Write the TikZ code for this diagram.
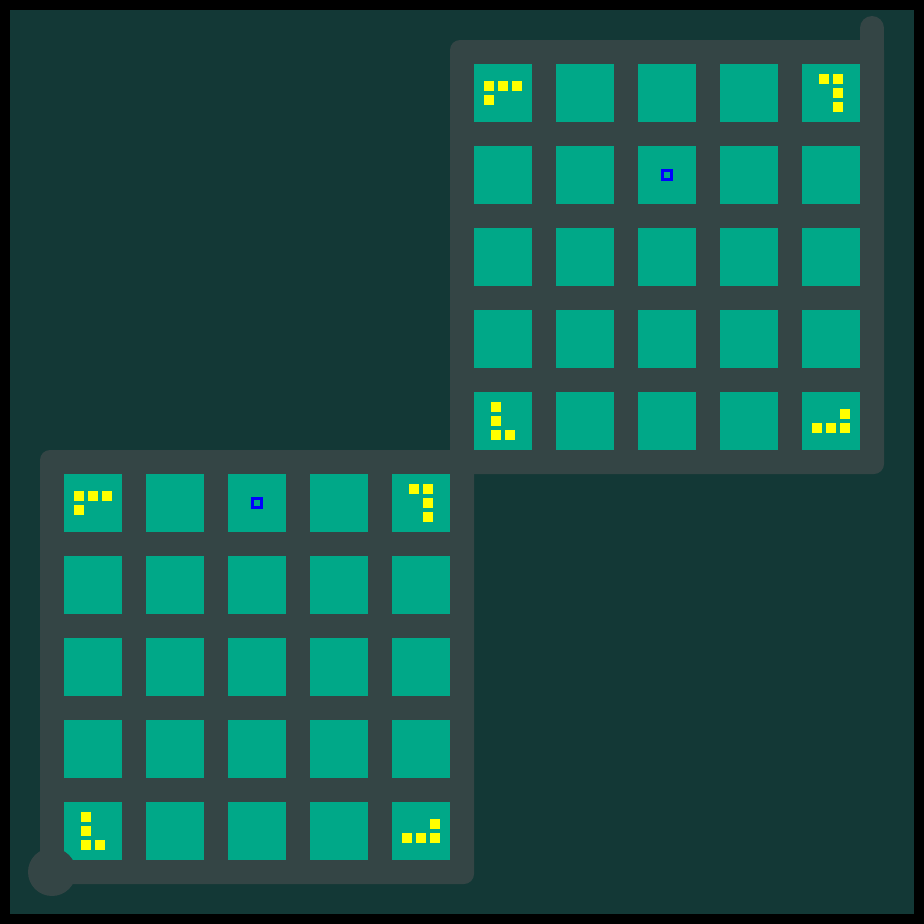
\documentclass[tikz,border=0pt]{standalone}
\usetikzlibrary{positioning, calc}

\definecolor{boardBg}{RGB}{19,56,54}
\definecolor{frameGray}{RGB}{52,69,69}
\definecolor{cellTeal}{RGB}{0,168,136}
\definecolor{pipYellow}{RGB}{255,255,0}
\definecolor{targetBlue}{RGB}{0,0,255}

\begin{document}
\begin{tikzpicture}[
    x=0.03cm, y=-0.03cm,
    % Board Styles
    board/.style={fill=frameGray, rounded corners=0.3cm},
    cell/.style={rectangle, fill=cellTeal, inner sep=0pt, minimum size=1.74cm, anchor=north west},
    % Marker Styles
    pip/.style={rectangle, fill=pipYellow, inner sep=0pt, minimum size=0.3cm, anchor=north west},
    target/.style={rectangle, draw=targetBlue, line width=0.09cm, inner sep=0pt, minimum size=0.27cm}
]
\useasboundingbox (0,0) rectangle (924,924);

% =========================================================
% BACKGROUND
% =========================================================
\fill[black] (0,0) rectangle (924,924);
\fill[boardBg] (10,10) rectangle (914,914);

% =========================================================
% FRAMES
% =========================================================
\fill[board] (450,40) rectangle (884,474);
\fill[board] (40,450) rectangle (474,884);

% tail at the top right
\coordinate (tailTop) at (872,28);
\coordinate (tailFoot) at (872,52);
\draw[frameGray, line width=0.72cm, line cap=round] (tailTop) -- (tailFoot);

% =========================================================
% CELLS: upper grid (u) and lower grid (l)
% =========================================================
\foreach \i in {0,...,4} {
    \foreach \j in {0,...,4} {
        \node[cell] (u-\i-\j) at ({474+82*\i},{64+82*\j}) {};
        \node[cell] (l-\i-\j) at ({64+82*\i},{474+82*\j}) {};
    }
}

% start knob sits over the lower grid corner
\fill[frameGray] (52,872) circle (0.72cm);

% =========================================================
% CORNER PIPS
% =========================================================
\foreach \g in {u,l} {
    \foreach \dx/\dy [count=\k] in {10/17, 24/17, 38/17, 10/31}
        \node[pip] (\g-nw-\k) at ($(\g-0-0.north west)+(\dx,\dy)$) {};
    \foreach \dx/\dy [count=\k] in {17/10, 31/10, 31/24, 31/38}
        \node[pip] (\g-ne-\k) at ($(\g-4-0.north west)+(\dx,\dy)$) {};
    \foreach \dx/\dy [count=\k] in {17/10, 17/24, 17/38, 31/38}
        \node[pip] (\g-sw-\k) at ($(\g-0-4.north west)+(\dx,\dy)$) {};
    \foreach \dx/\dy [count=\k] in {10/31, 24/31, 38/31, 38/17}
        \node[pip] (\g-se-\k) at ($(\g-4-4.north west)+(\dx,\dy)$) {};
}

% =========================================================
% TARGETS
% =========================================================
\node[target] (uTarget) at (u-2-1.center) {};
\node[target] (lTarget) at (l-2-0.center) {};

\end{tikzpicture}
\end{document}
